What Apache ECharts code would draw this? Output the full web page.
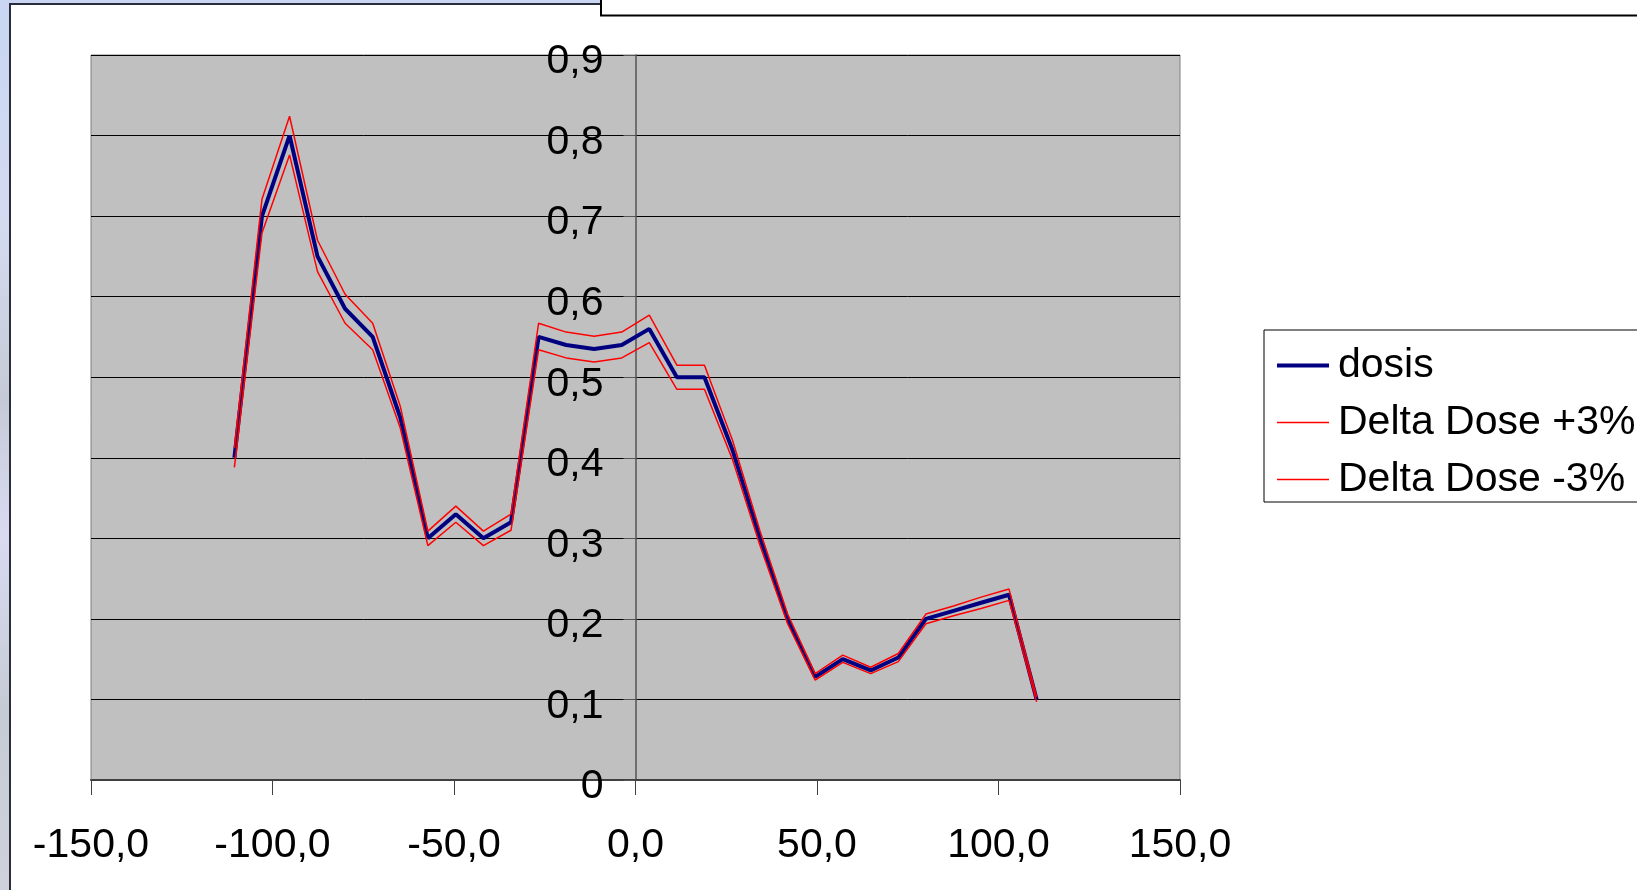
<!DOCTYPE html>
<html>
<head>
<meta charset="utf-8">
<title>dosis</title>
<script src="https://cdn.jsdelivr.net/npm/echarts@6/dist/echarts.min.js"></script>
<style>
  html, body { margin: 0; padding: 0; background: #ffffff; }
  #chart { width: 1637px; height: 890px; }
</style>
</head>
<body>
<div id="chart"></div>
<script>
// Measurement positions (mm) along the profile
const positions = [-110.5, -102.9, -95.3, -87.6, -80.0, -72.4, -64.8, -57.2, -49.5, -41.9,
                   -34.3, -26.7, -19.1, -11.4, -3.8, 3.8, 11.4, 19.0, 26.7, 34.3,
                   41.9, 49.5, 57.1, 64.8, 72.4, 80.0, 87.6, 95.2, 102.9, 110.5];

// Measured dose
const dosis = [0.400, 0.700, 0.800, 0.650, 0.585, 0.550, 0.450, 0.300, 0.330, 0.300,
               0.320, 0.550, 0.540, 0.535, 0.540, 0.560, 0.500, 0.500, 0.410, 0.300,
               0.200, 0.128, 0.150, 0.136, 0.152, 0.200, 0.210, 0.220, 0.230, 0.100];

// Upper tolerance band (+3 %)
const deltaPlus = [0.412, 0.721, 0.824, 0.670, 0.603, 0.567, 0.464, 0.309, 0.340, 0.309,
                   0.330, 0.567, 0.556, 0.551, 0.556, 0.577, 0.515, 0.515, 0.422, 0.309,
                   0.206, 0.132, 0.155, 0.140, 0.157, 0.206, 0.216, 0.227, 0.237, 0.103];

// Lower tolerance band (-3 %)
const deltaMinus = [0.388, 0.679, 0.776, 0.631, 0.567, 0.534, 0.437, 0.291, 0.320, 0.291,
                    0.310, 0.534, 0.524, 0.519, 0.524, 0.543, 0.485, 0.485, 0.398, 0.291,
                    0.194, 0.124, 0.146, 0.132, 0.147, 0.194, 0.204, 0.213, 0.223, 0.097];

const seriesNames = ['dosis', 'Delta Dose +3%', 'Delta Dose -3%'];

// x-axis range and tick step
const X_MIN = -150, X_MAX = 150, X_STEP = 50;
// y-axis range and tick step
const Y_MIN = 0, Y_MAX = 0.9, Y_STEP = 0.1;

const pairs = (ys) => positions.map((x, i) => [x, ys[i]]);
const comma = (v, digits) => v.toFixed(digits).replace('.', ',');

const FONT = '"Liberation Sans", Arial, sans-serif';

// plot area in pixels
const GRID = { left: 91, right: 457, top: 55, bottom: 110 };
const plotWidth = 1637 - GRID.left - GRID.right;
// shift the value axis from the left edge to x = 0
const yAxisShift = -plotWidth * (0 - X_MIN) / (X_MAX - X_MIN);

const COLORS = { dose: '#000080', band: '#ff0000' };
const WIDTHS = { dose: 4, band: 1.5 };

const chart = echarts.init(document.getElementById('chart'), null, { renderer: 'canvas' });

const hiddenSymbol = { opacity: 0, color: 'rgba(0,0,0,0)', borderWidth: 0 };

chart.setOption({
  animation: false,
  backgroundColor: 'transparent',
  textStyle: { fontFamily: FONT },
  graphic: [
    {
      type: 'rect', z: -20, silent: true,
      shape: { x: 0, y: 0, width: 1637, height: 890 },
      style: {
        fill: {
          type: 'linear', x: 0, y: 0, x2: 0, y2: 1,
          colorStops: [
            { offset: 0, color: '#c9d5f2' },
            { offset: 0.25, color: '#d3dbf1' },
            { offset: 0.45, color: '#c6cad6' },
            { offset: 0.6, color: '#d9daf2' },
            { offset: 0.8, color: '#c5cbd4' },
            { offset: 1, color: '#cfd2dc' }
          ]
        }
      }
    },
    {
      type: 'rect', z: -19, silent: true,
      shape: { x: 10, y: 4, width: 2000, height: 2000 },
      style: { fill: '#ffffff', stroke: '#2a2e3a', lineWidth: 2 }
    },
    {
      type: 'rect', z: -18, silent: true,
      shape: { x: 601, y: -20, width: 1200, height: 35.5 },
      style: { fill: '#ffffff', stroke: '#000000', lineWidth: 2 }
    }
  ],
  grid: {
    left: GRID.left, right: GRID.right, top: GRID.top, bottom: GRID.bottom,
    show: true,
    backgroundColor: '#c0c0c0',
    borderColor: '#808080',
    borderWidth: 1
  },
  legend: {
    data: [
      { name: seriesNames[0], itemStyle: hiddenSymbol, lineStyle: { width: WIDTHS.dose, color: COLORS.dose } },
      { name: seriesNames[1], itemStyle: hiddenSymbol, lineStyle: { width: WIDTHS.band, color: COLORS.band } },
      { name: seriesNames[2], itemStyle: hiddenSymbol, lineStyle: { width: WIDTHS.band, color: COLORS.band } }
    ],
    orient: 'vertical',
    left: 1264, top: 330,
    padding: [15, 20, 2, 11],
    backgroundColor: '#ffffff',
    borderColor: '#000000',
    borderWidth: 1,
    borderRadius: 0,
    itemWidth: 52,
    itemHeight: 14,
    itemGap: 16,
    itemStyle: hiddenSymbol,
    textStyle: { fontSize: 41, lineHeight: 41, color: '#000000', fontFamily: FONT, padding: [0, 0, 0, 4] }
  },
  xAxis: {
    type: 'value',
    min: X_MIN, max: X_MAX, interval: X_STEP,
    axisLine: { show: true, onZero: false, lineStyle: { color: '#404040', width: 2 } },
    axisTick: { show: true, length: 15, lineStyle: { color: '#404040', width: 1 } },
    axisLabel: {
      margin: 45, fontSize: 41, color: '#000000', fontFamily: FONT,
      formatter: (v) => comma(v, 1)
    },
    splitLine: { show: false }
  },
  yAxis: {
    type: 'value',
    min: Y_MIN, max: Y_MAX, interval: Y_STEP,
    position: 'left',
    offset: yAxisShift,
    axisLine: { show: true, onZero: false, lineStyle: { color: '#555555', width: 1.5 } },
    axisTick: { show: true, length: 12, lineStyle: { color: '#555555', width: 1 } },
    axisLabel: {
      margin: 32, fontSize: 41, color: '#000000', fontFamily: FONT,
      formatter: (v) => {
        const r = Math.round(v * 10) / 10;
        return '{v|' + (r === 0 ? '0' : comma(r, 1)) + '}';
      },
      rich: {
        v: { fontSize: 41, fontFamily: FONT, color: '#000000', padding: [14, 0, 0, 0] }
      }
    },
    splitLine: { show: true, lineStyle: { color: '#000000', width: 1 } }
  },
  series: [
    {
      name: seriesNames[0], type: 'line', data: pairs(dosis),
      symbol: 'none', z: 3,
      lineStyle: { color: COLORS.dose, width: WIDTHS.dose },
      itemStyle: { color: COLORS.dose }
    },
    {
      name: seriesNames[1], type: 'line', data: pairs(deltaPlus),
      symbol: 'none', z: 4,
      lineStyle: { color: COLORS.band, width: WIDTHS.band },
      itemStyle: { color: COLORS.band }
    },
    {
      name: seriesNames[2], type: 'line', data: pairs(deltaMinus),
      symbol: 'none', z: 4,
      lineStyle: { color: COLORS.band, width: WIDTHS.band },
      itemStyle: { color: COLORS.band }
    }
  ]
});
</script>
</body>
</html>
